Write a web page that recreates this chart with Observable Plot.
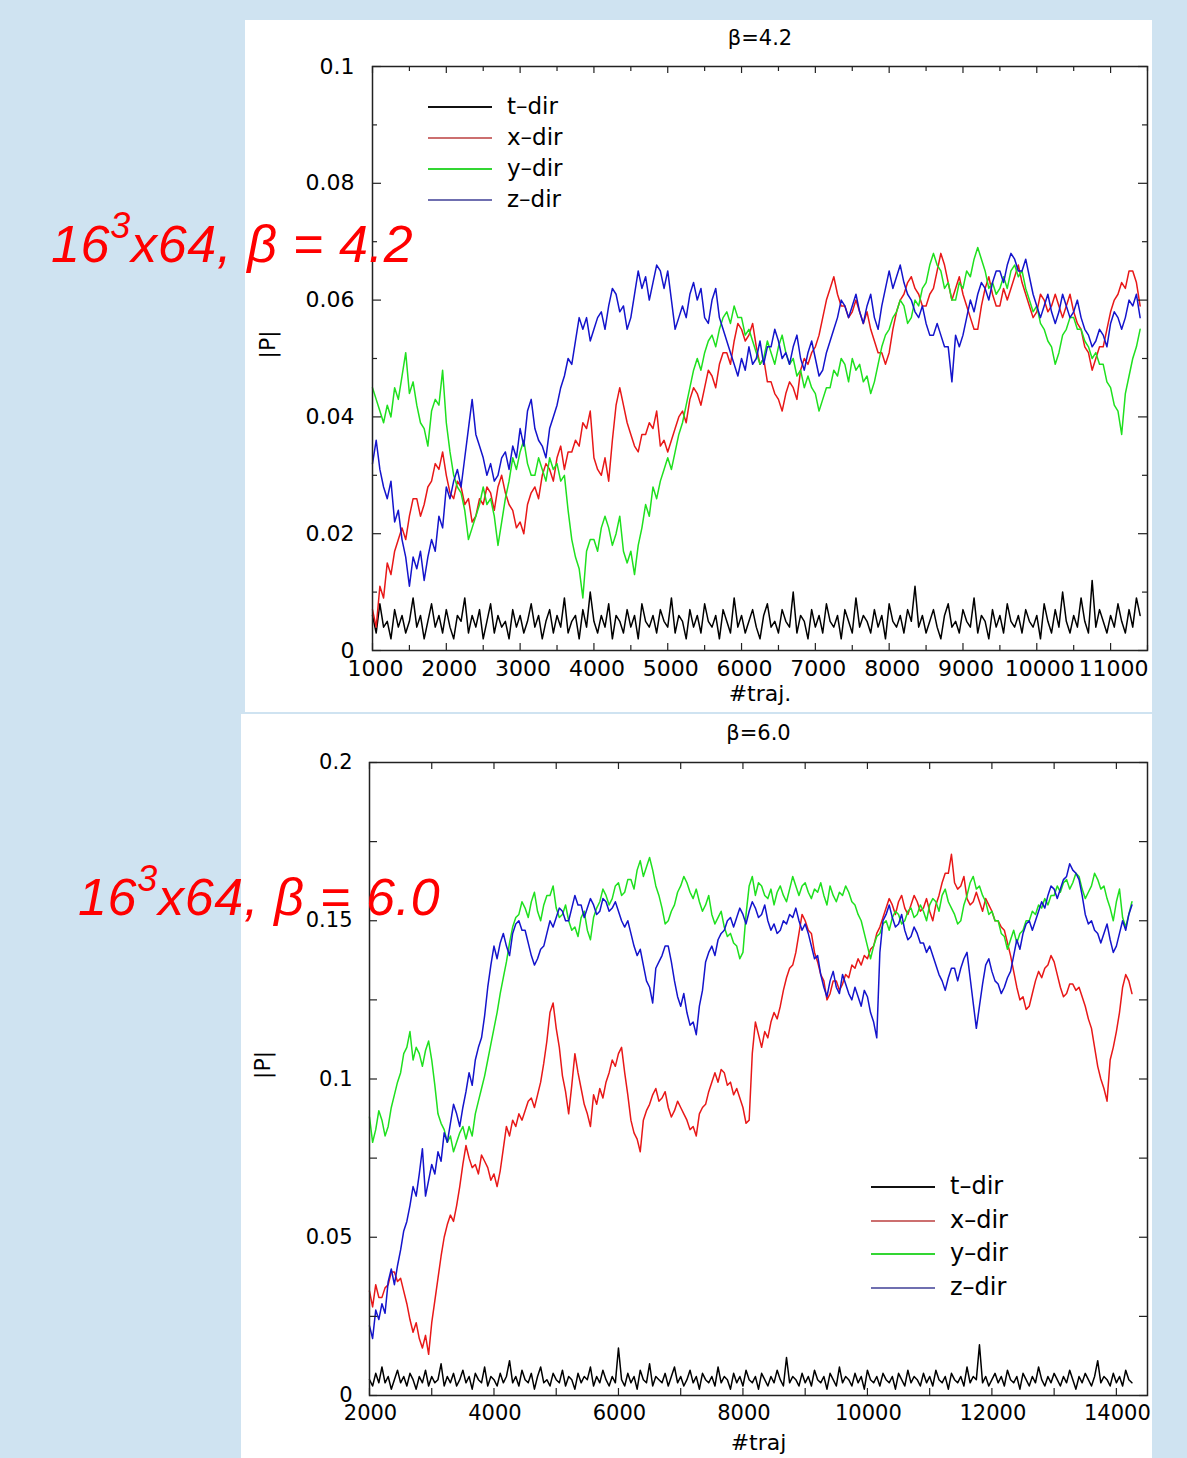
<!DOCTYPE html>
<html>
<head>
<meta charset="utf-8">
<script src="https://cdn.jsdelivr.net/npm/d3@7"></script>
<script src="https://cdn.jsdelivr.net/npm/@observablehq/plot@0.6"></script>
<style>
  html, body { margin: 0; padding: 0; }
  body { width: 1187px; height: 1458px; background: #cfe3f1; position: relative; overflow: hidden; font-family: "DejaVu Sans", "Liberation Sans", Arial, sans-serif; }
  .panel { position: absolute; background: #ffffff; overflow: visible; }
  .big { position: absolute; font-family: "Liberation Sans", Arial, sans-serif; font-style: italic; font-size: 52px; letter-spacing: 0.7px; line-height: 50px; color: #ff0000; white-space: nowrap; z-index: 5; }
  .big sup { font-size: 36px; vertical-align: 24px; line-height: 0; }
  .leg { position: absolute; z-index: 4; font-family: "DejaVu Sans", "Liberation Sans", Arial, sans-serif; color: #000; }
  .leg .sw { position: absolute; height: 0; }
  .leg .lb { position: absolute; white-space: nowrap; }
</style>
</head>
<body>
<div id="panel1" class="panel" style="left:245px; top:20px; width:907px; height:692px;"></div>
<div id="panel2" class="panel" style="left:241px; top:714px; width:911px; height:744px;"></div>
<div class="big" style="left:51px; top:219px;">16<sup>3</sup>x64, β = 4.2</div>
<div class="big" style="left:78px; top:872px;">16<sup>3</sup>x64, β = 6.0</div>
<script>
// ---------- shared ----------
const dirLabels = ["t\u2013dir", "x\u2013dir", "y\u2013dir", "z\u2013dir"];
const lineColors = ["#000000", "#e81818", "#1fe01f", "#1414cc"];
const legendColors = ["#111111", "#cc6f6f", "#33d633", "#6f6fb0"];

// ---------- panel 1 : beta = 4.2 ----------
const title1 = "\u03b2=4.2";
const xTitle1 = "#traj.";
const yTitle1 = "|P|";
const traj1 = d3.range(1000, 11401, 50);
const t1 = [
.006,.003,.008,.004,.005,.002,.007,.004,.006,.003,.005,.009,.004,.006,.002,.005,.008,.004,.006,.003,
.007,.004,.002,.006,.005,.009,.003,.006,.004,.007,.002,.005,.008,.003,.006,.004,.005,.002,.007,.004,
.006,.003,.005,.008,.004,.006,.002,.005,.007,.003,.006,.004,.009,.003,.005,.006,.002,.007,.004,.010,
.005,.003,.006,.004,.008,.002,.006,.005,.003,.007,.004,.006,.002,.008,.005,.004,.006,.003,.007,.005,
.004,.009,.003,.006,.005,.002,.007,.004,.006,.003,.008,.005,.004,.006,.002,.007,.005,.003,.009,.004,
.006,.003,.005,.007,.004,.002,.006,.008,.004,.005,.003,.007,.005,.004,.010,.003,.006,.005,.002,.007,
.004,.006,.003,.008,.005,.004,.006,.002,.007,.005,.003,.009,.004,.006,.005,.003,.007,.004,.006,.002,
.008,.005,.004,.006,.003,.007,.005,.011,.004,.006,.003,.005,.007,.004,.002,.006,.008,.004,.005,.003,
.007,.005,.004,.009,.003,.006,.005,.002,.007,.004,.006,.003,.008,.005,.004,.006,.003,.007,.005,.004,
.006,.002,.008,.005,.003,.007,.004,.010,.005,.003,.006,.004,.009,.005,.003,.012,.004,.007,.005,.003,
.006,.004,.008,.005,.003,.007,.004,.009,.006];
const x1 = [
.007,.004,.011,.009,.015,.013,.017,.019,.021,.019,.023,.026,.026,.023,.025,.028,.029,.032,.031,.034,
.030,.027,.026,.029,.028,.025,.026,.022,.023,.026,.025,.028,.027,.024,.028,.030,.027,.025,.024,.021,
.022,.020,.025,.027,.028,.026,.030,.032,.031,.029,.033,.035,.031,.034,.034,.036,.035,.039,.038,.041,
.033,.031,.030,.033,.029,.036,.042,.045,.042,.039,.037,.035,.034,.037,.037,.039,.038,.041,.035,.036,
.034,.036,.038,.040,.041,.039,.043,.045,.044,.042,.045,.048,.047,.045,.049,.051,.051,.049,.053,.056,
.055,.053,.054,.056,.052,.049,.050,.046,.046,.044,.043,.041,.044,.046,.045,.043,.048,.050,.049,.051,
.052,.054,.057,.060,.062,.064,.061,.059,.059,.057,.058,.060,.058,.056,.058,.055,.053,.051,.051,.049,
.051,.055,.058,.060,.061,.063,.064,.062,.061,.059,.059,.061,.062,.065,.068,.066,.063,.060,.062,.064,
.061,.059,.057,.055,.055,.059,.062,.064,.061,.059,.059,.062,.060,.062,.064,.066,.063,.061,.059,.057,
.058,.061,.060,.058,.059,.061,.059,.057,.059,.061,.058,.056,.055,.052,.051,.048,.050,.052,.052,.055,
.058,.060,.061,.063,.062,.065,.065,.063,.059];
const y1 = [
.045,.043,.041,.039,.042,.040,.045,.043,.047,.051,.044,.046,.042,.039,.038,.035,.041,.043,.042,.048,
.039,.034,.030,.028,.027,.024,.019,.021,.023,.025,.028,.025,.026,.023,.018,.022,.026,.029,.033,.031,
.034,.036,.032,.030,.030,.033,.031,.029,.033,.031,.032,.029,.030,.024,.019,.016,.014,.009,.017,.019,
.019,.017,.021,.023,.021,.018,.020,.023,.017,.015,.017,.013,.018,.021,.025,.023,.028,.026,.029,.031,
.033,.031,.034,.037,.039,.042,.045,.048,.050,.048,.051,.053,.054,.052,.055,.057,.058,.056,.059,.057,
.057,.054,.055,.053,.051,.049,.050,.053,.051,.049,.052,.054,.051,.049,.050,.047,.048,.045,.047,.045,
.044,.041,.043,.045,.045,.048,.047,.050,.049,.046,.050,.048,.049,.046,.047,.044,.046,.049,.052,.054,
.055,.057,.058,.060,.059,.056,.057,.060,.059,.062,.063,.066,.068,.066,.065,.062,.063,.060,.060,.063,
.062,.065,.064,.067,.069,.067,.065,.062,.063,.061,.062,.064,.062,.065,.066,.064,.065,.062,.060,.058,
.059,.056,.055,.053,.052,.049,.051,.054,.055,.057,.057,.055,.055,.053,.052,.050,.051,.049,.049,.046,
.045,.042,.041,.037,.044,.047,.050,.052,.055];
const z1 = [
.032,.036,.031,.028,.026,.029,.022,.024,.019,.016,.011,.016,.014,.017,.012,.016,.019,.017,.023,.021,
.028,.026,.029,.031,.028,.033,.038,.043,.037,.035,.033,.030,.032,.029,.030,.033,.034,.031,.035,.033,
.038,.035,.041,.043,.038,.036,.035,.033,.038,.040,.042,.045,.047,.050,.049,.053,.057,.055,.057,.053,
.055,.057,.058,.055,.059,.062,.061,.058,.059,.055,.057,.061,.065,.062,.064,.060,.063,.066,.065,.062,
.065,.060,.055,.057,.059,.057,.061,.063,.060,.062,.057,.056,.060,.062,.057,.055,.053,.051,.049,.047,
.050,.048,.052,.049,.050,.053,.049,.052,.052,.055,.053,.050,.051,.049,.052,.054,.050,.048,.051,.053,
.050,.047,.048,.051,.053,.055,.057,.060,.059,.057,.059,.061,.058,.056,.059,.061,.057,.055,.059,.062,
.065,.062,.064,.066,.063,.061,.060,.058,.057,.059,.056,.054,.054,.056,.054,.052,.052,.046,.054,.052,
.054,.057,.060,.058,.061,.063,.062,.060,.063,.065,.065,.063,.066,.068,.067,.065,.065,.067,.064,.061,
.059,.057,.059,.061,.058,.056,.058,.061,.059,.057,.058,.060,.057,.055,.054,.052,.053,.055,.054,.052,
.056,.058,.057,.055,.057,.060,.059,.061,.057];
const xTickLabels1 = [1000, 2000, 3000, 4000, 5000, 6000, 7000, 8000, 9000, 10000, 11000];
const yTickLabels1 = [0, 0.02, 0.04, 0.06, 0.08, 0.1];
const xTickMarks1 = d3.range(1000, 11501, 500);
const yTickMarks1 = [0, 0.01, 0.02, 0.03, 0.04, 0.05, 0.06, 0.07, 0.08, 0.09, 0.1];

// ---------- panel 2 : beta = 6.0 ----------
const title2 = "\u03b2=6.0";
const xTitle2 = "#traj";
const yTitle2 = "|P|";
const traj2 = d3.range(2000, 14251, 50);
const t2 = [
.005,.003,.007,.004,.009,.004,.006,.002,.005,.008,.004,.006,.003,.007,.005,.002,.006,.004,.008,.003,
.006,.004,.005,.010,.003,.006,.004,.007,.003,.005,.008,.004,.006,.002,.007,.005,.004,.009,.003,.006,
.005,.003,.007,.004,.006,.011,.004,.006,.003,.008,.005,.004,.007,.002,.006,.009,.004,.005,.003,.007,
.005,.004,.008,.003,.006,.005,.002,.007,.004,.006,.005,.009,.003,.006,.004,.008,.005,.003,.006,.004,
.015,.005,.003,.007,.004,.006,.002,.008,.005,.004,.010,.003,.006,.005,.004,.007,.003,.006,.009,.004,
.006,.003,.005,.008,.004,.006,.002,.007,.005,.004,.006,.003,.009,.004,.006,.005,.002,.007,.004,.006,
.003,.008,.005,.004,.006,.002,.007,.005,.003,.006,.004,.008,.005,.003,.012,.004,.006,.005,.003,.007,
.004,.006,.003,.008,.005,.004,.006,.002,.007,.005,.003,.009,.004,.006,.005,.003,.007,.004,.006,.002,
.008,.005,.004,.006,.003,.007,.005,.004,.006,.002,.007,.005,.003,.008,.004,.006,.005,.003,.007,.004,
.006,.003,.008,.005,.004,.006,.002,.007,.005,.004,.006,.003,.009,.004,.006,.005,.016,.004,.006,.003,
.005,.007,.004,.006,.003,.008,.005,.004,.006,.002,.007,.005,.003,.006,.004,.009,.005,.003,.006,.004,
.007,.005,.003,.006,.004,.008,.005,.002,.006,.004,.007,.005,.003,.006,.011,.004,.006,.005,.003,.007,
.004,.006,.003,.008,.005,.004];
const x2 = [
.033,.028,.035,.031,.031,.034,.035,.039,.039,.036,.037,.033,.029,.024,.020,.023,.018,.015,.019,.013,
.023,.030,.037,.044,.050,.054,.057,.055,.060,.066,.073,.079,.075,.072,.073,.070,.076,.074,.072,.068,
.070,.066,.071,.078,.085,.082,.087,.085,.089,.087,.090,.093,.094,.091,.095,.099,.105,.112,.121,.124,
.116,.110,.101,.096,.089,.098,.108,.102,.097,.092,.089,.085,.095,.092,.097,.094,.099,.102,.106,.104,
.108,.110,.102,.095,.087,.083,.081,.077,.087,.090,.092,.095,.097,.093,.094,.096,.091,.088,.090,.093,
.091,.089,.087,.084,.085,.082,.089,.091,.092,.096,.099,.102,.099,.103,.102,.098,.099,.095,.097,.094,
.091,.086,.087,.108,.118,.114,.110,.115,.113,.118,.121,.119,.123,.128,.132,.135,.136,.140,.146,.152,
.150,.147,.146,.140,.137,.133,.131,.125,.127,.131,.131,.128,.130,.133,.132,.136,.135,.138,.136,.139,
.138,.141,.142,.146,.148,.151,.154,.157,.155,.152,.156,.158,.154,.152,.155,.158,.156,.153,.154,.157,
.153,.150,.155,.158,.162,.165,.165,.171,.162,.160,.161,.164,.157,.155,.156,.159,.156,.153,.157,.155,
.153,.150,.150,.148,.147,.143,.139,.134,.129,.125,.126,.122,.123,.127,.131,.134,.132,.135,.136,.139,
.137,.133,.129,.126,.127,.130,.130,.128,.129,.126,.123,.119,.116,.110,.104,.100,.097,.093,.106,.110,
.115,.121,.129,.133,.131,.127];
const y2 = [
.088,.080,.084,.090,.087,.082,.085,.091,.095,.099,.102,.108,.110,.115,.106,.110,.108,.104,.109,.112,
.106,.098,.089,.086,.084,.080,.082,.077,.080,.083,.085,.081,.085,.082,.089,.093,.097,.101,.106,.111,
.116,.121,.127,.132,.137,.143,.148,.151,.152,.156,.154,.151,.156,.159,.153,.150,.155,.158,.158,.161,
.154,.151,.152,.155,.150,.147,.148,.145,.151,.153,.147,.144,.151,.154,.156,.160,.158,.155,.157,.161,
.162,.158,.159,.163,.163,.160,.166,.169,.164,.167,.170,.166,.161,.158,.154,.149,.150,.153,.155,.159,
.161,.164,.162,.159,.157,.160,.156,.153,.155,.158,.152,.149,.151,.153,.148,.145,.146,.143,.142,.138,
.140,.152,.161,.164,.158,.162,.161,.158,.157,.160,.155,.159,.161,.158,.156,.160,.164,.161,.158,.161,
.162,.159,.157,.160,.159,.162,.158,.155,.161,.158,.156,.159,.158,.161,.159,.156,.155,.152,.150,.146,
.142,.138,.142,.145,.146,.149,.150,.147,.151,.153,.152,.149,.150,.153,.154,.151,.152,.155,.153,.150,
.155,.157,.156,.153,.158,.160,.156,.154,.152,.149,.150,.155,.158,.162,.164,.160,.161,.158,.156,.152,
.153,.150,.150,.146,.145,.141,.144,.147,.143,.146,.147,.150,.150,.153,.152,.155,.154,.157,.155,.158,
.158,.161,.159,.162,.163,.160,.162,.165,.164,.160,.157,.159,.161,.165,.163,.160,.161,.157,.154,.150,
.156,.160,.151,.148,.152,.156];
const z2 = [
.022,.018,.027,.024,.029,.026,.036,.040,.035,.041,.046,.052,.055,.060,.066,.063,.070,.078,.063,.068,
.073,.070,.077,.074,.083,.080,.086,.092,.089,.085,.091,.096,.102,.098,.106,.110,.113,.120,.129,.136,
.142,.138,.143,.146,.142,.139,.146,.149,.150,.147,.147,.143,.139,.136,.138,.141,.142,.146,.150,.148,
.151,.154,.153,.150,.150,.154,.158,.155,.155,.151,.154,.157,.155,.152,.153,.157,.156,.153,.154,.156,
.153,.150,.148,.150,.146,.142,.139,.141,.136,.131,.129,.124,.135,.137,.139,.142,.142,.137,.131,.126,
.123,.127,.121,.117,.118,.114,.123,.128,.137,.140,.142,.139,.144,.146,.147,.150,.151,.148,.151,.154,
.152,.149,.153,.156,.154,.151,.152,.155,.150,.147,.149,.146,.147,.150,.149,.152,.151,.154,.150,.147,
.149,.146,.142,.138,.139,.133,.129,.126,.131,.134,.129,.127,.133,.130,.127,.125,.129,.126,.123,.128,
.126,.121,.118,.113,.140,.150,.152,.155,.151,.148,.149,.152,.147,.144,.145,.148,.146,.143,.143,.140,
.142,.139,.136,.133,.131,.128,.132,.135,.135,.131,.135,.138,.140,.132,.124,.116,.123,.130,.136,.138,
.134,.131,.130,.127,.129,.132,.134,.139,.144,.141,.146,.149,.150,.147,.150,.153,.156,.154,.158,.161,
.160,.157,.160,.163,.164,.168,.166,.165,.163,.158,.152,.149,.150,.147,.146,.143,.146,.149,.144,.140,
.142,.146,.150,.147,.152,.155];
const xTickLabels2 = [2000, 4000, 6000, 8000, 10000, 12000, 14000];
const yTickLabels2 = [0, 0.05, 0.1, 0.15, 0.2];
const xTickMarks2 = d3.range(2000, 14501, 1000);
const yTickMarks2 = [0, 0.025, 0.05, 0.075, 0.1, 0.125, 0.15, 0.175, 0.2];

// ---------- drawing ----------
function makePanel(cfg) {
  const fw = cfg.width - cfg.ml - cfg.mr;
  const fh = cfg.height - cfg.mt - cfg.mb;
  const has = (arr, v) => arr.some(a => Math.abs(a - v) < 1e-9);
  const xMaj = cfg.xMarks.filter(v => has(cfg.xLabels, v));
  const xMin = cfg.xMarks.filter(v => !has(cfg.xLabels, v));
  const yMaj = cfg.yMarks.filter(v => has(cfg.yLabels, v));
  const yMin = cfg.yMarks.filter(v => !has(cfg.yLabels, v));
  const tk = {stroke: "#222", strokeWidth: 1.2};
  const marks = [];
  cfg.series.forEach((vals, i) => {
    const rows = cfg.traj.map((t, j) => ({t, v: vals[j]})).filter(d => d.v != null);
    marks.push(Plot.line(rows, {x: "t", y: "v", stroke: lineColors[i], strokeWidth: 1.5}));
  });
  marks.push(
    Plot.tickX(xMaj, {x: d => d, insetTop: fh - cfg.xMajLen, ...tk}),
    Plot.tickX(xMaj, {x: d => d, insetBottom: fh - cfg.xMajLen, ...tk}),
    Plot.tickX(xMin, {x: d => d, insetTop: fh - cfg.xMinLen, ...tk}),
    Plot.tickX(xMin, {x: d => d, insetBottom: fh - cfg.xMinLen, ...tk}),
    Plot.tickY(yMaj, {y: d => d, insetRight: fw - cfg.yMajLen, ...tk}),
    Plot.tickY(yMaj, {y: d => d, insetLeft: fw - cfg.yMajLen, ...tk}),
    Plot.tickY(yMin, {y: d => d, insetRight: fw - cfg.yMinLen, ...tk}),
    Plot.tickY(yMin, {y: d => d, insetLeft: fw - cfg.yMinLen, ...tk}),
    Plot.frame({stroke: "#222", strokeWidth: 1.5}),
    Plot.axisX(cfg.xLabels, {anchor: "bottom", tickSize: 0, tickPadding: cfg.xPad, dx: cfg.xDx, tickFormat: d => String(d), fontSize: cfg.tickFont, label: null}),
    Plot.axisY(cfg.yLabels, {anchor: "left", tickSize: 0, tickPadding: cfg.yPad, tickFormat: d => String(d), fontSize: cfg.tickFont, label: null}),
    Plot.text([cfg.title], {frameAnchor: "top", dy: cfg.titleDy, fontSize: cfg.titleFont, fill: "#000"}),
    Plot.text([cfg.xTitle], {frameAnchor: "bottom", dy: cfg.xTitleDy, fontSize: cfg.labelFont, fill: "#000"}),
    Plot.text([cfg.yTitle], {frameAnchor: "left", dx: cfg.yTitleDx, rotate: -90, fontSize: cfg.labelFont, fill: "#000"})
  );
  return Plot.plot({
    width: cfg.width, height: cfg.height,
    marginLeft: cfg.ml, marginRight: cfg.mr, marginTop: cfg.mt, marginBottom: cfg.mb,
    x: {type: "linear", domain: cfg.xDomain, label: null},
    y: {type: "linear", domain: cfg.yDomain, label: null},
    style: {background: "transparent", color: "#000", fontFamily: "'DejaVu Sans', 'Liberation Sans', Arial, sans-serif", overflow: "visible"},
    marks
  });
}

function addLegend(cfg) {
  const box = document.createElement("div");
  box.className = "leg";
  box.style.left = "0px"; box.style.top = "0px";
  dirLabels.forEach((lab, i) => {
    const cy = cfg.y0 + i * cfg.dy;
    const sw = document.createElement("div");
    sw.className = "sw";
    sw.style.left = cfg.x0 + "px";
    sw.style.width = cfg.len + "px";
    sw.style.top = (cy - 1) + "px";
    sw.style.borderTop = "2px solid " + legendColors[i];
    const lb = document.createElement("div");
    lb.className = "lb";
    lb.textContent = lab;
    lb.style.left = cfg.tx + "px";
    lb.style.top = (cy - cfg.font * 0.62) + "px";
    lb.style.fontSize = cfg.font + "px";
    lb.style.lineHeight = (cfg.font * 1.2) + "px";
    box.appendChild(sw);
    box.appendChild(lb);
  });
  document.body.appendChild(box);
}

document.getElementById("panel1").appendChild(makePanel({
  width: 907, height: 692, ml: 127, mr: 5, mt: 46, mb: 62,
  xDomain: [1000, 11500], yDomain: [0, 0.1],
  traj: traj1, series: [t1, x1, y1, z1],
  xLabels: xTickLabels1, yLabels: yTickLabels1, xMarks: xTickMarks1, yMarks: yTickMarks1,
  xMajLen: 7, xMinLen: 5, yMajLen: 9, yMinLen: 5,
  xPad: 10, xDx: 3, yPad: 18, tickFont: 22, titleFont: 21, labelFont: 22,
  title: title1, titleDy: -36, xTitle: xTitle1, xTitleDy: 50, yTitle: yTitle1, yTitleDx: -105
}));
document.getElementById("panel2").appendChild(makePanel({
  width: 911, height: 744, ml: 128, mr: 5, mt: 48, mb: 63,
  xDomain: [2000, 14500], yDomain: [0, 0.2],
  traj: traj2, series: [t2, x2, y2, z2],
  xLabels: xTickLabels2, yLabels: yTickLabels2, xMarks: xTickMarks2, yMarks: yTickMarks2,
  xMajLen: 7, xMinLen: 7, yMajLen: 8, yMinLen: 8,
  xPad: 10, xDx: 1, yPad: 17, tickFont: 21, titleFont: 21, labelFont: 22,
  title: title2, titleDy: -37, xTitle: xTitle2, xTitleDy: 54, yTitle: yTitle2, yTitleDx: -107
}));
addLegend({x0: 428, len: 64, tx: 507, y0: 107, dy: 31, font: 23});
addLegend({x0: 871, len: 64, tx: 950, y0: 1187, dy: 33.5, font: 24});
</script>
</body>
</html>
